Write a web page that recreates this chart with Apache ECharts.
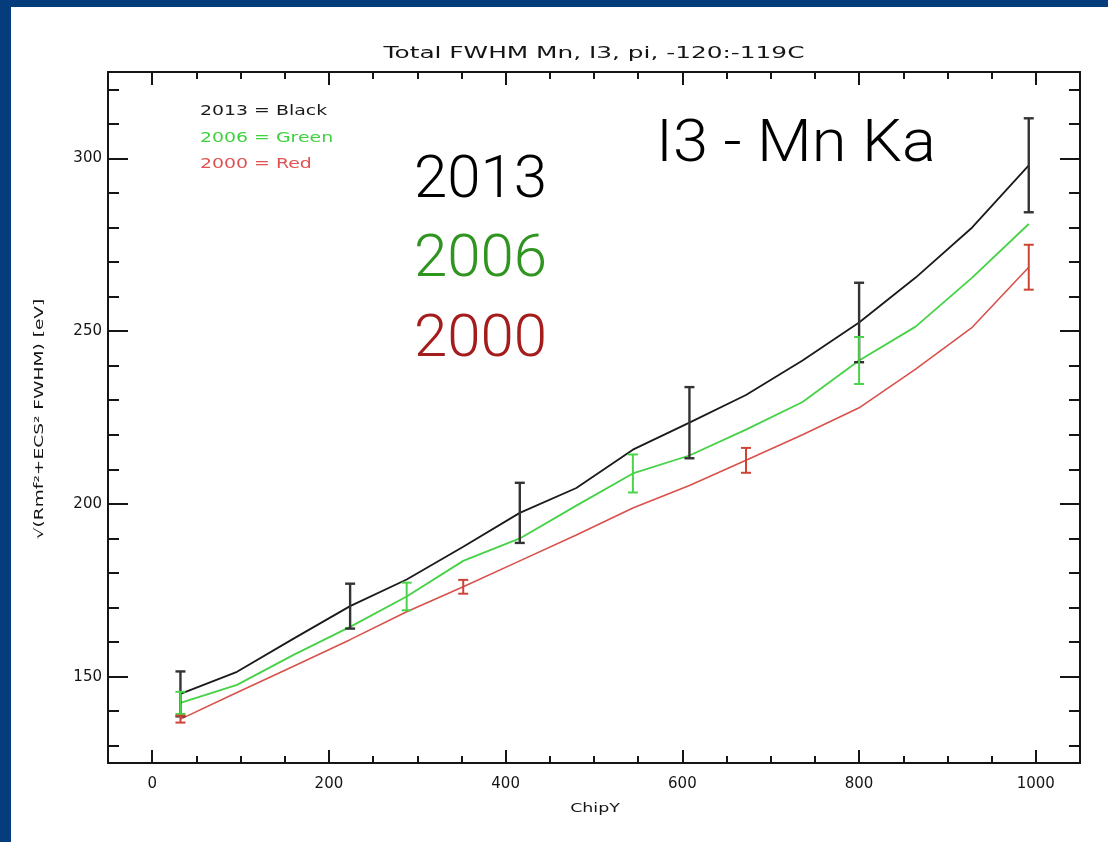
<!DOCTYPE html>
<html>
<head>
<meta charset="utf-8">
<script src="https://cdn.jsdelivr.net/npm/echarts@6/dist/echarts.min.js"></script>
<style>
  html, body { margin: 0; padding: 0; width: 1108px; height: 842px; overflow: hidden; background: #043c7c; }
  #chart { position: absolute; left: 11px; top: 7px; width: 1097px; height: 835px; background: #ffffff; }
</style>
</head>
<body>
<div id="chart"></div>
<script>
// ChipY bin centres (64-row bins)
const chipY = [32, 96, 160, 224, 288, 352, 416, 480, 544, 608, 672, 736, 800, 864, 928, 992];

// Total FWHM [eV] per epoch
const fwhm2013 = [145.0, 151.4, 161.0, 170.4, 178.1, 187.6, 197.4, 204.6, 215.7, 223.5, 231.5, 241.5, 252.5, 265.5, 280.0, 298.0];
const fwhm2006 = [142.4, 147.6, 156.3, 164.4, 173.2, 183.5, 190.0, 199.5, 208.8, 214.0, 221.5, 229.5, 241.5, 251.3, 265.5, 281.0];
const fwhm2000 = [137.7, 145.4, 153.0, 160.7, 168.8, 176.0, 183.5, 191.0, 198.8, 205.3, 212.6, 220.0, 227.8, 239.0, 251.1, 268.5];

// Error bars: ChipY positions and half-widths [eV]
const errX2013 = [32, 224, 416, 608, 800, 992];
const err2013 = [6.5, 6.5, 8.7, 10.3, 11.5, 13.6];
const errX2006 = [32, 288, 544, 800];
const err2006 = [3.2, 4.0, 5.5, 6.8];
const errX2000 = [32, 352, 672, 992];
const err2000 = [1.0, 2.0, 3.6, 6.5];

// Axis ticks
const xMajor = [0, 200, 400, 600, 800, 1000];
const xMinor = [-50, 50, 100, 150, 250, 300, 350, 450, 500, 550, 650, 700, 750, 850, 900, 950, 1050];
const yMajor = [150, 200, 250, 300];
const yMinor = [130, 140, 160, 170, 180, 190, 210, 220, 230, 240, 260, 270, 280, 290, 310, 320];

const INK = '#151515';
const AXIS_FONT = 'DejaVu Sans';
const BIG_FONT = '300 60px Roboto';

function pairs(xs, ys) { return xs.map((x, i) => [x, ys[i]]); }
function errData(xs, errs, values) {
  return xs.map((x, i) => {
    const v = values[chipY.indexOf(x)];
    return [x, v - errs[i], v + errs[i]];
  });
}
function errSeries(name, data, color, width) {
  return {
    name: name, type: 'custom', xAxisIndex: 0, yAxisIndex: 0, z: 4,
    data: data, encode: { x: 0, y: [1, 2] },
    renderItem: function (params, api) {
      const x = api.value(0);
      const lo = api.coord([x, api.value(1)]);
      const hi = api.coord([x, api.value(2)]);
      const hw = 5;
      const style = { stroke: color, lineWidth: width };
      return {
        type: 'group', children: [
          { type: 'line', shape: { x1: hi[0], y1: hi[1], x2: lo[0], y2: lo[1] }, style: style },
          { type: 'line', shape: { x1: hi[0] - hw, y1: hi[1], x2: hi[0] + hw, y2: hi[1] }, style: style },
          { type: 'line', shape: { x1: lo[0] - hw, y1: lo[1], x2: lo[0] + hw, y2: lo[1] }, style: style }
        ]
      };
    }
  };
}
function frameAxis(kind, pos, ticks, len, withLabels) {
  const isX = kind === 'x';
  return {
    type: 'value', position: pos,
    min: isX ? -50 : 125, max: isX ? 1050 : 325,
    axisLine: { show: true, onZero: false, lineStyle: { color: INK, width: 2 } },
    axisTick: { show: true, inside: true, length: len, customValues: ticks, lineStyle: { color: INK, width: 2 } },
    axisLabel: withLabels ? {
      show: true, customValues: ticks, margin: isX ? 14 : 6,
      fontFamily: AXIS_FONT, fontSize: 15, color: INK,
      formatter: function (v) { return String(v); }
    } : { show: false },
    splitLine: { show: false }
  };
}
// Wide plot-style text (stretched horizontally)
function wideText(text, x, y, size, color, align, stretch, rotation) {
  return {
    type: 'text', x: x, y: y, rotation: rotation || 0, scaleX: stretch, silent: true,
    style: { text: text, fill: color, font: size + 'px "' + AXIS_FONT + '"', align: align, verticalAlign: 'middle' }
  };
}
function bigText(text, x, y, color, stretch) {
  return {
    type: 'text', x: x, y: y, scaleX: stretch || 1, silent: true,
    style: { text: text, fill: color, font: BIG_FONT, align: 'left', verticalAlign: 'middle' }
  };
}

const chart = echarts.init(document.getElementById('chart'), null, { renderer: 'canvas' });
chart.setOption({
  animation: false,
  backgroundColor: '#ffffff',
  grid: { left: 97, top: 65, width: 972, height: 691, containLabel: false },
  xAxis: [
    frameAxis('x', 'bottom', xMajor, 13, true),
    frameAxis('x', 'bottom', xMinor, 7, false),
    frameAxis('x', 'top', xMajor, 13, false),
    frameAxis('x', 'top', xMinor, 7, false)
  ],
  yAxis: [
    frameAxis('y', 'left', yMajor, 20, true),
    frameAxis('y', 'left', yMinor, 11, false),
    frameAxis('y', 'right', yMajor, 20, false),
    frameAxis('y', 'right', yMinor, 11, false)
  ],
  series: [
    { name: '2000', type: 'line', data: pairs(chipY, fwhm2000), showSymbol: false, lineStyle: { color: '#d8514b', width: 1.6 }, z: 3 },
    { name: '2006', type: 'line', data: pairs(chipY, fwhm2006), showSymbol: false, lineStyle: { color: '#46d246', width: 1.8 }, z: 3 },
    { name: '2013', type: 'line', data: pairs(chipY, fwhm2013), showSymbol: false, lineStyle: { color: '#1a1a1a', width: 1.8 }, z: 3 },
    errSeries('2013 err', errData(errX2013, err2013, fwhm2013), '#333333', 2.4),
    errSeries('2006 err', errData(errX2006, err2006, fwhm2006), '#4ad44a', 2.0),
    errSeries('2000 err', errData(errX2000, err2000, fwhm2000), '#cc4436', 2.0)
  ],
  graphic: [
    wideText('Total FWHM Mn, I3, pi, -120:-119C', 583, 47, 16, INK, 'center', 1.55),
    wideText('ChipY', 584, 802, 12, INK, 'center', 1.45),
    wideText('\u221A(Rmf\u00B2+ECS\u00B2 FWHM) [eV]', 29, 412, 12, INK, 'center', 1.55, Math.PI / 2),
    wideText('2013 = Black', 189, 104, 14, '#1a1a1a', 'left', 1.35),
    wideText('2006 = Green', 189, 131, 14, '#3fd23f', 'left', 1.35),
    wideText('2000 = Red', 189, 157, 14, '#e05252', 'left', 1.35),
    bigText('I3 - Mn Ka', 645, 139, '#000000', 1.055),
    bigText('2013', 403, 174.5, '#000000'),
    bigText('2006', 403, 254, '#2f9420'),
    bigText('2000', 403, 333.5, '#a41c1c')
  ]
});
</script>
</body>
</html>
